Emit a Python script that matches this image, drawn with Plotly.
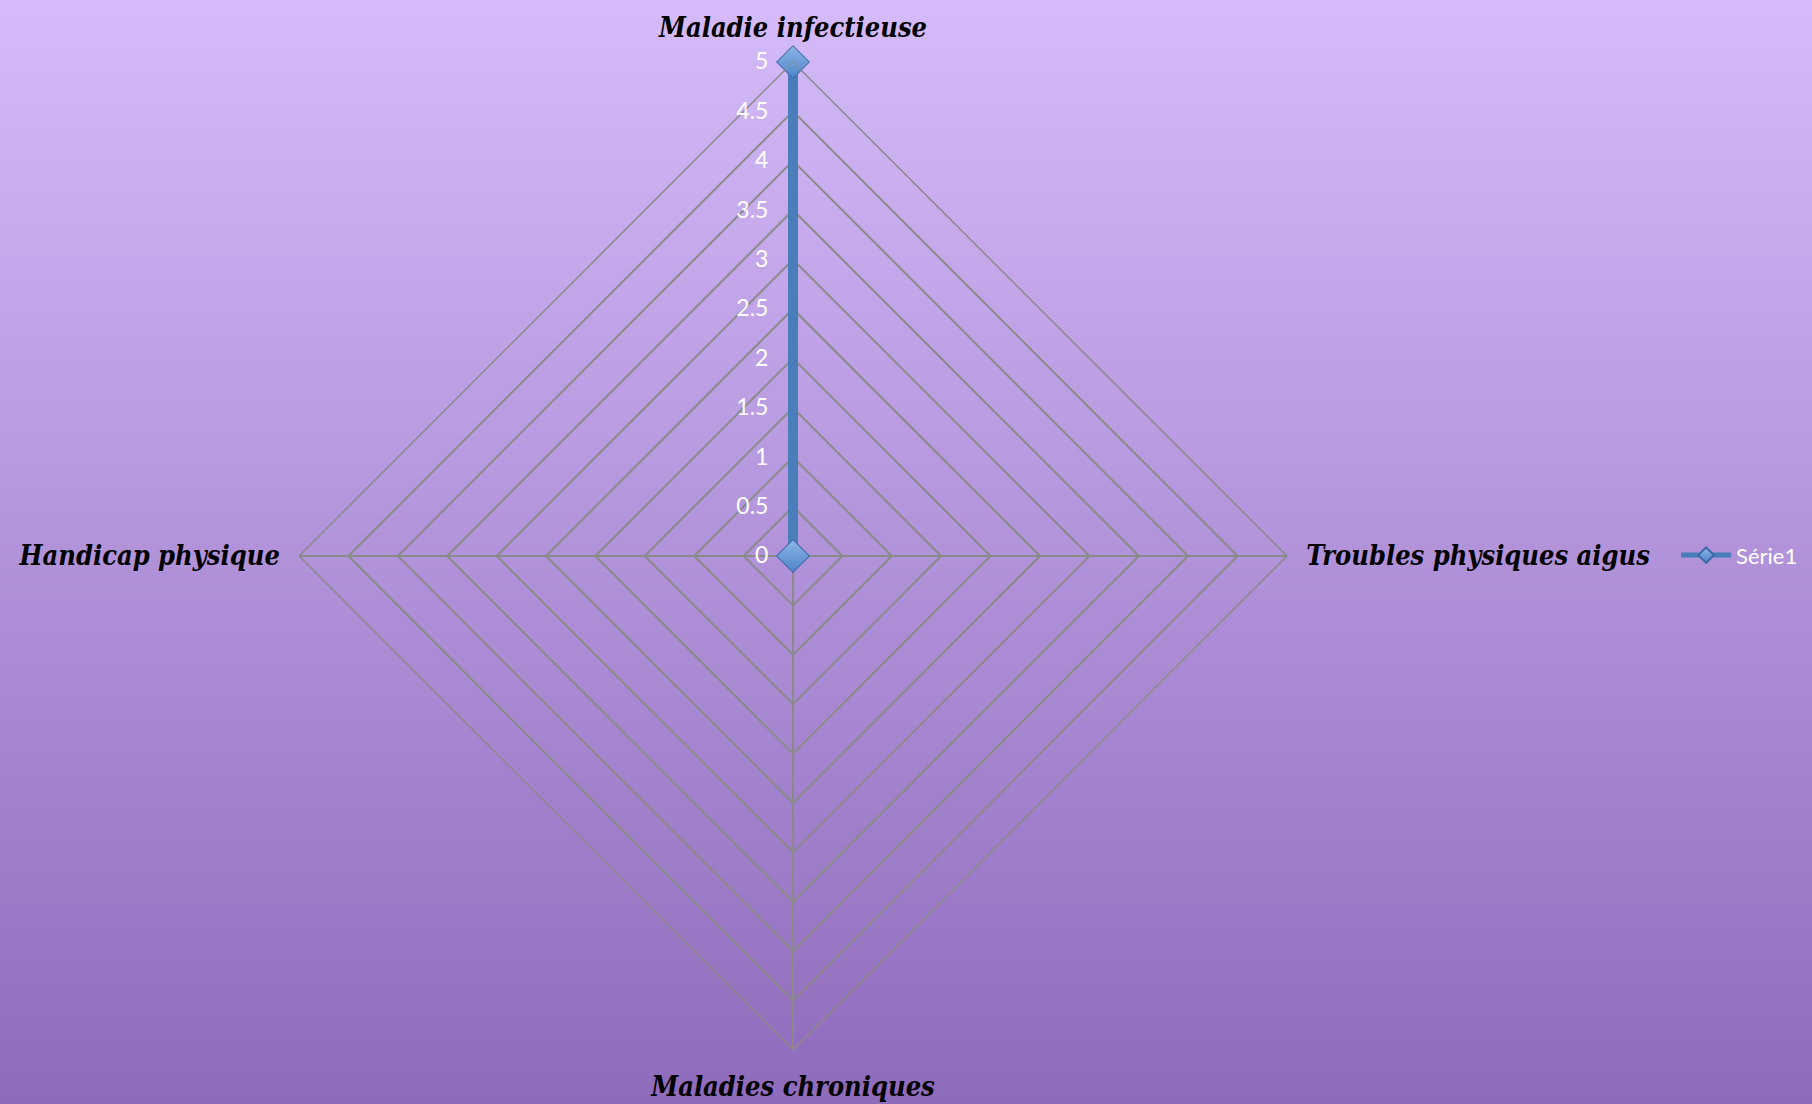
import plotly.graph_objects as go

# Radar data: one series over four health categories
categories = ["Maladie infectieuse", "Troubles physiques aigus", "Maladies chroniques", "Handicap physique"]
serie1 = [5, 0, 0, 0]
series_name = "Série1"
radial_ticks = [0, 0.5, 1, 1.5, 2, 2.5, 3, 3.5, 4, 4.5, 5]

W, H = 1812, 1104

# close the polygon back onto the first category
r_closed = serie1 + serie1[:1]
theta_closed = categories + categories[:1]

marker_style = dict(
    symbol="diamond",
    size=25,
    color="#8DB6E8",
    gradient=dict(type="vertical", color="#4F84C9"),
    line=dict(color="#3A68A6", width=1),
)

fig = go.Figure()
# series line with its markers on the main radar (unclipped so the outer marker shows whole)
fig.add_trace(go.Scatterpolar(
    r=r_closed,
    theta=theta_closed,
    mode="lines+markers",
    name=series_name,
    subplot="polar",
    cliponaxis=False,
    line=dict(color="#4A7EBB", width=10),
    marker=marker_style,
    showlegend=True,
))
# same markers on a transparent overlay radar with clipping on, which keeps the r=0 points
fig.add_trace(go.Scatterpolar(
    r=serie1,
    theta=categories,
    mode="markers",
    name=series_name,
    subplot="polar2",
    cliponaxis=True,
    marker=marker_style,
    showlegend=False,
    hoverinfo="skip",
))

# vertical lavender-to-violet background built from thin strips
top_rgb = (213, 187, 249)
bot_rgb = (142, 107, 187)
n_strips = 276
shapes = []
for i in range(n_strips):
    t = (i + 0.5) / n_strips
    c = tuple(round(top_rgb[k] + (bot_rgb[k] - top_rgb[k]) * t) for k in range(3))
    shapes.append(dict(
        type="rect", xref="paper", yref="paper",
        x0=0, x1=1, y0=1 - (i + 1) / n_strips - 0.001, y1=1 - i / n_strips,
        fillcolor="rgb(%d,%d,%d)" % c, line=dict(width=0), layer="below",
    ))

cx, cy, rad = 793, 556, 494
dom_x = [(cx - rad) / W, (cx + rad) / W]
dom_y = [(H - cy - rad) / H, (H - cy + rad) / H]

grid_col = "#8A8A8A"
fig.update_layout(
    width=W, height=H,
    margin=dict(l=0, r=0, t=0, b=0),
    paper_bgcolor="rgba(0,0,0,0)",
    plot_bgcolor="rgba(0,0,0,0)",
    shapes=shapes,
    polar=dict(
        domain=dict(x=dom_x, y=dom_y),
        bgcolor="rgba(0,0,0,0)",
        gridshape="linear",
        radialaxis=dict(
            range=[0, 5],
            tickvals=radial_ticks,
            ticktext=[("%g" % v) for v in radial_ticks],
            angle=90,
            side="counterclockwise",
            tickangle=90,
            showline=False,
            ticks="outside",
            ticklen=16,
            tickcolor="rgba(0,0,0,0)",
            gridcolor=grid_col,
            gridwidth=1.5,
            tickfont=dict(family="Lato, Open Sans, sans-serif", size=23, color="white"),
        ),
        angularaxis=dict(
            direction="clockwise",
            rotation=90,
            gridcolor=grid_col,
            gridwidth=1.5,
            showline=True,
            linecolor=grid_col,
            linewidth=1.5,
            ticks="outside",
            ticklen=13,
            tickcolor="rgba(0,0,0,0)",
            tickfont=dict(family="DejaVu Serif Condensed, DejaVu Serif, serif", size=27,
                          color="black", weight="bold", style="italic"),
        ),
    ),
    polar2=dict(
        domain=dict(x=dom_x, y=dom_y),
        bgcolor="rgba(0,0,0,0)",
        gridshape="linear",
        radialaxis=dict(range=[0, 5], angle=90, visible=False),
        angularaxis=dict(direction="clockwise", rotation=90, visible=False),
    ),
    legend=dict(
        x=0.925, y=0.497, xanchor="left", yanchor="middle",
        bgcolor="rgba(0,0,0,0)",
        font=dict(family="Lato, Open Sans, sans-serif", size=22, color="white"),
        itemwidth=50,
        itemsizing="constant",
    ),
)

fig.write_html("out.html")
